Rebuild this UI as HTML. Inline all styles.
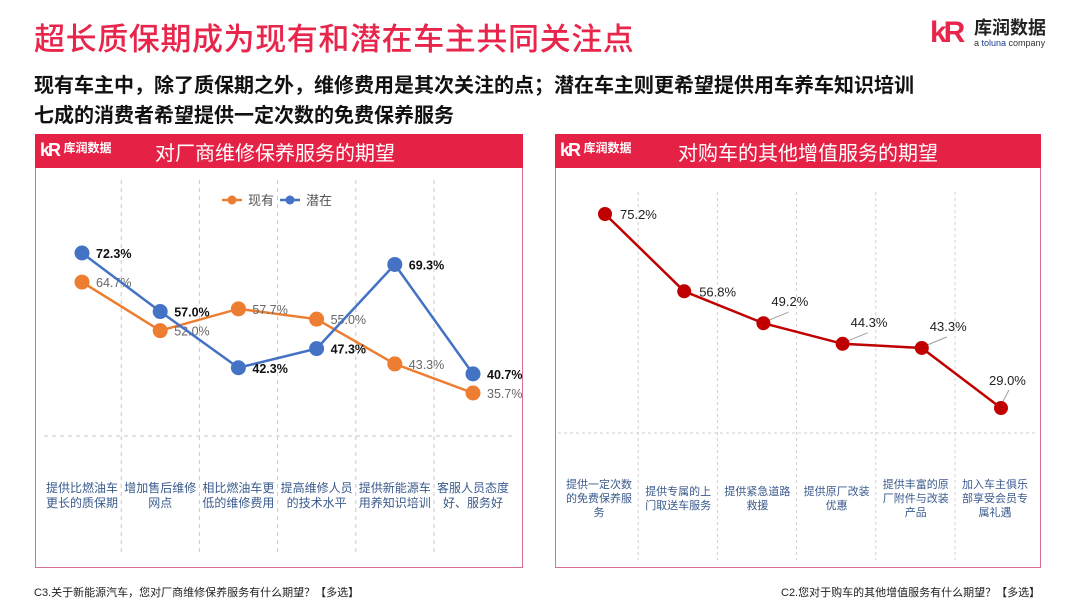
<!DOCTYPE html>
<html><head><meta charset="utf-8">
<style>
body{margin:0;width:1080px;height:608px;background:#fff;overflow:hidden;font-family:"Liberation Sans","Noto Sans CJK SC",sans-serif;position:relative}
.abs{position:absolute}
svg{position:absolute;left:0;top:0}
</style></head>
<body>
<div class="abs" style="left:34px;top:14px;font-size:31px;color:#e8254b;font-weight:500;letter-spacing:0.6px;white-space:nowrap">超长质保期成为现有和潜在车主共同关注点</div>
<div class="abs" style="left:34px;top:69px;font-size:20px;font-weight:bold;color:#111;white-space:nowrap">现有车主中，除了质保期之外，维修费用是其次关注的点；潜在车主则更希望提供用车养车知识培训</div>
<div class="abs" style="left:34px;top:99px;font-size:20px;font-weight:bold;color:#111;white-space:nowrap">七成的消费者希望提供一定次数的免费保养服务</div>

<div class="abs" style="left:930px;top:14px;width:140px;height:36px">
  <div class="abs" style="left:0;top:2px;font-size:30px;font-weight:bold;color:#e8254b;letter-spacing:-3px">kR</div>
  <div class="abs" style="left:44px;top:0;font-size:18px;font-weight:bold;color:#222;white-space:nowrap">库润数据</div>
  <div class="abs" style="left:44px;top:24px;font-size:9px;color:#333;white-space:nowrap">a <span style="color:#1a3d8f">toluna</span> company</div>
</div>

<div class="abs" style="left:35px;top:134px;width:488px;height:34px;background:#e52246"></div>
<div class="abs" style="left:40px;top:140px;color:#fff;white-space:nowrap"><span style="font-size:18px;font-weight:bold;letter-spacing:-2px">kR</span> <span style="font-size:12px;font-weight:bold;position:relative;top:-4px">库润数据</span></div>
<div class="abs" style="left:155px;top:137px;font-size:20px;color:#fff;white-space:nowrap">对厂商维修保养服务的期望</div>
<div class="abs" style="left:35px;top:168px;width:486px;height:399px;border:1.5px solid #d9708f;border-top:none"></div>

<div class="abs" style="left:555px;top:134px;width:486px;height:34px;background:#e52246"></div>
<div class="abs" style="left:560px;top:140px;color:#fff;white-space:nowrap"><span style="font-size:18px;font-weight:bold;letter-spacing:-2px">kR</span> <span style="font-size:12px;font-weight:bold;position:relative;top:-4px">库润数据</span></div>
<div class="abs" style="left:678px;top:137px;font-size:20px;color:#fff;white-space:nowrap">对购车的其他增值服务的期望</div>
<div class="abs" style="left:555px;top:168px;width:484px;height:399px;border:1.5px solid #d9708f;border-top:none"></div>

<div class="abs" style="left:34px;top:584px;font-size:11px;color:#222;white-space:nowrap">C3.关于新能源汽车，您对厂商维修保养服务有什么期望？【多选】</div>
<div class="abs" style="left:781px;top:584px;font-size:11px;color:#222;white-space:nowrap">C2.您对于购车的其他增值服务有什么期望？【多选】</div>

<svg id="chart" width="1080" height="608"></svg>

<script>
const leftCategories = [["提供比燃油车","更长的质保期"],["增加售后维修","网点"],["相比燃油车更","低的维修费用"],["提高维修人员","的技术水平"],["提供新能源车","用养知识培训"],["客服人员态度","好、服务好"]];
const existingValues = [64.7, 52.0, 57.7, 55.0, 43.3, 35.7];
const potentialValues = [72.3, 57.0, 42.3, 47.3, 69.3, 40.7];
const seriesNames = ["现有", "潜在"];
const rightCategories = [["提供一定次数","的免费保养服","务"],["提供专属的上","门取送车服务"],["提供紧急道路","救援"],["提供原厂改装","优惠"],["提供丰富的原","厂附件与改装","产品"],["加入车主俱乐","部享受会员专","属礼遇"]];
const rightValues = [75.2, 56.8, 49.2, 44.3, 43.3, 29.0];

const NS = "http://www.w3.org/2000/svg";
const svg = document.getElementById("chart");
function mk(tag, attrs, parent){const e=document.createElementNS(NS,tag);for(const k in attrs)e.setAttribute(k,attrs[k]);(parent||svg).appendChild(e);return e;}

const lx = i => 82 + i*78.2;
const ly = v => 253 + (72.3 - v)*3.825;
for(let i=1;i<6;i++){
  const g=mk("line",{x1:lx(i)-39,x2:lx(i)-39,y1:180,y2:555,stroke:"#c8c8c8","stroke-dasharray":"4,4"});
  
  
}
const lh=mk("line",{x1:44,x2:514,y1:436,y2:436,stroke:"#c8c8c8","stroke-dasharray":"4,4"});



function drawSeries(vals,color,labelColor,bold,name,xf,yf,dy){
  const pts=vals.map((v,i)=>xf(i)+","+yf(v)).join(" ");
  const pl=mk("polyline",{points:pts,fill:"none",stroke:color,"stroke-width":2.5});
  
  
  vals.forEach((v,i)=>{
    const c=mk("circle",{cx:xf(i),cy:yf(v),r:7.5,fill:color});
    
    
    const t=mk("text",{x:xf(i)+14,y:yf(v)+5,"font-size":12.5,fill:labelColor,"font-weight":bold?"bold":"normal"});
    t.textContent=v.toFixed(1)+"%";
    
    
  });
}
drawSeries(existingValues,"#ed7d31","#666",false,"existing",lx,ly,5);
drawSeries(potentialValues,"#4472c4","#111",true,"potential",lx,ly,5);

const legColors=["#ed7d31","#4472c4"];
seriesNames.forEach((n,i)=>{
  const x0=222+i*58;
  const l=mk("line",{x1:x0,x2:x0+20,y1:200,y2:200,stroke:legColors[i],"stroke-width":2.5});
  
  
  const c=mk("circle",{cx:x0+10,cy:200,r:4.5,fill:legColors[i]});
  
  
  const t=mk("text",{x:x0+26,y:205,"font-size":13,fill:"#555"});
  t.textContent=n;
  
  
});
leftCategories.forEach((lines,i)=>{
  lines.forEach((s,j)=>{
    const t=mk("text",{x:lx(i),y:492+j*15,"font-size":12,fill:"#3a5a8c","text-anchor":"middle"});
    t.textContent=s;
    
    
  });
});

const rx = i => 605 + i*79.2;
const ry = v => 214 + (75.2 - v)*4.2;
for(let i=1;i<6;i++){
  const g=mk("line",{x1:rx(i)-46,x2:rx(i)-46,y1:192,y2:560,stroke:"#d0d0d0","stroke-dasharray":"3,3"});
  
  
}
const rh=mk("line",{x1:558,x2:1036,y1:433,y2:433,stroke:"#d0d0d0","stroke-dasharray":"3,3"});


const rpl=mk("polyline",{points:rightValues.map((v,i)=>rx(i)+","+ry(v)).join(" "),fill:"none",stroke:"#c00000","stroke-width":2.5});


rightValues.forEach((v,i)=>{
  let tx, ty;
  if(i<2){tx=rx(i)+15;ty=ry(v)+5;}
  else if(i<5){tx=rx(i)+8;ty=ry(v)-17;
    const ll=mk("line",{x1:rx(i)+3,y1:ry(v)-2,x2:rx(i)+25,y2:ry(v)-11,stroke:"#a0a0a0","stroke-width":1});
    
    }
  else {tx=rx(i)-12;ty=ry(v)-23;
    const ll=mk("line",{x1:rx(i),y1:ry(v)-3,x2:rx(i)+8,y2:ry(v)-18,stroke:"#a0a0a0","stroke-width":1});
    
    }
  const c=mk("circle",{cx:rx(i),cy:ry(v),r:7,fill:"#c00000"});
  
  
  const t=mk("text",{x:tx,y:ty,"font-size":13,fill:"#222"});
  t.textContent=v.toFixed(1)+"%";
  
  
});
rightCategories.forEach((lines,i)=>{
  const cx=rx(i)-6;
  const y0=lines.length===3?488:495;
  lines.forEach((s,j)=>{
    const t=mk("text",{x:cx,y:y0+j*14,"font-size":11,fill:"#3a5a8c","text-anchor":"middle"});
    t.textContent=s;
    
    
  });
});
</script>
</body></html>
